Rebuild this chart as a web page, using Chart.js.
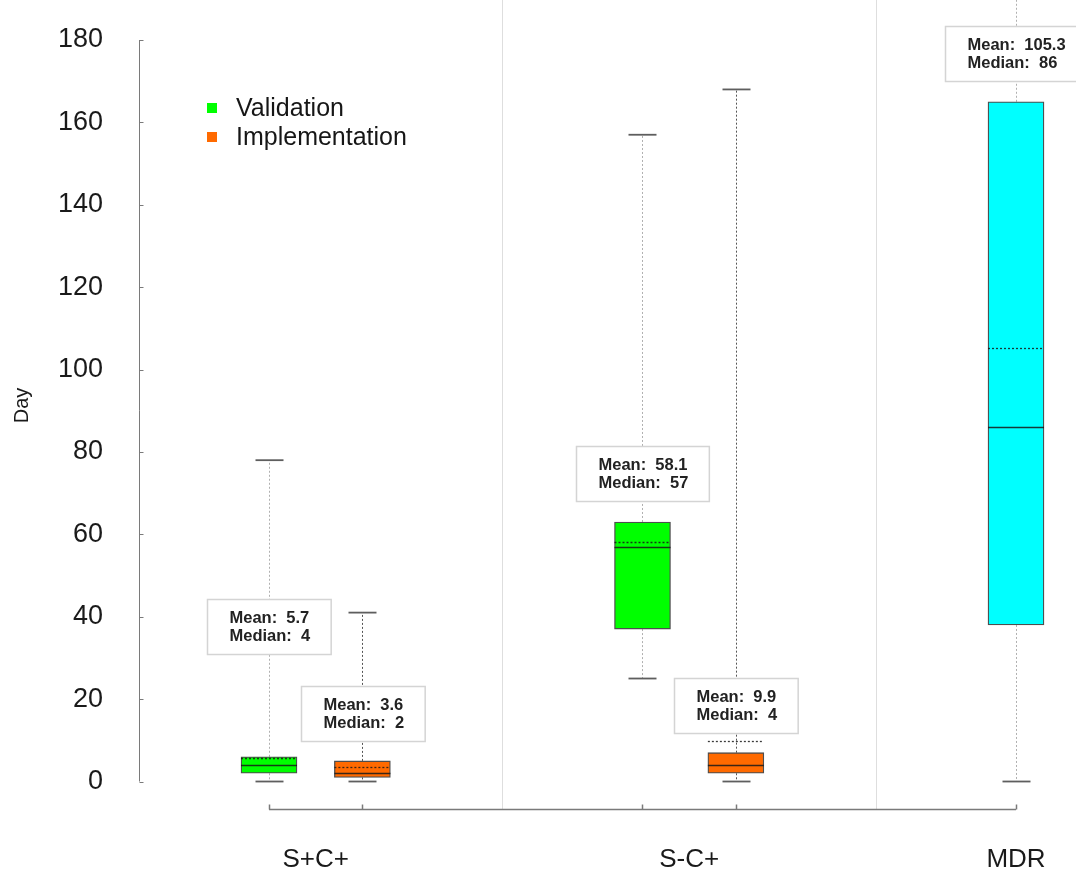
<!DOCTYPE html>
<html>
<head>
<meta charset="utf-8">
<title>Day box plots</title>
<script src="https://cdn.jsdelivr.net/npm/chart.js@4/dist/chart.umd.min.js"></script>
<style>
  html, body { margin: 0; padding: 0; background: #ffffff; }
  canvas { display: block; }
</style>
</head>
<body>
<canvas id="c" width="1076" height="871"></canvas>
<script>
// ---- data -------------------------------------------------------------
const categories = ['S+C+', 'S-C+', 'MDR'];
const yTicks = [0, 20, 40, 60, 80, 100, 120, 140, 160, 180];

// Validation (S+C+, S-C+)
const validationMin    = [0, 25];
const validationQ1     = [2, 37];
const validationMedian = [4, 57];
const validationQ3     = [6, 63];
const validationMax    = [78, 157];
const validationMean   = [5.7, 58.1];

// Implementation (S+C+, S-C+)
const implementationMin    = [0, 0];
const implementationQ1     = [1, 2];
const implementationMedian = [2, 4];
const implementationQ3     = [5, 7];
const implementationMax    = [41, 168];
const implementationMean   = [3.6, 9.9];

// MDR
const mdrMin    = [0];
const mdrQ1     = [38];
const mdrMedian = [86];
const mdrQ3     = [165];
const mdrMax    = [196];
const mdrMean   = [105.3];

// ---- layout (x slots on the linear axis, note anchors in axis units) ---
const validationSlots     = [0, 4];
const implementationSlots = [1, 5];
const mdrSlots            = [8];
const categorySlots       = [0.5, 4.5, 8];
const axisTickSlots       = [0, 1, 4, 5, 8];
const separatorSlots      = [2.5, 6.5];
const validationNoteY     = [37.7, 74.8];
const implementationNoteY = [16.6, 18.4];
const mdrNoteY            = [176.7];

const FONT = '"Liberation Sans", Arial, Helvetica, sans-serif';
Chart.defaults.font.family = FONT;

function series(label, color, slots, min, q1, med, q3, max, mean, noteY, whiskerColor, inLegend) {
  return {
    label: label,
    data: slots.map((s, i) => ({ x: s, y: [q1[i], q3[i]] })),
    backgroundColor: color,
    borderColor: '#4e4e4e',
    borderWidth: 1.3,
    borderSkipped: false,
    barThickness: 56,
    grouped: false,
    stats: { slots, min, q1, med, q3, max, mean, noteY },
    whiskerColor: whiskerColor,
    inLegend: inLegend
  };
}

const datasets = [
  series('Validation', '#00ff00', validationSlots, validationMin, validationQ1, validationMedian,
         validationQ3, validationMax, validationMean, validationNoteY, '#b0b0b0', true),
  series('Implementation', '#ff6a00', implementationSlots, implementationMin, implementationQ1,
         implementationMedian, implementationQ3, implementationMax, implementationMean,
         implementationNoteY, '#555555', true),
  series('MDR', '#00ffff', mdrSlots, mdrMin, mdrQ1, mdrMedian, mdrQ3, mdrMax, mdrMean,
         mdrNoteY, '#b0b0b0', false)
];

// Keep the plot area flush with the canvas edges: labels sit inside it.
function noEdgePadding(s) {
  s.paddingTop = 0;
  s.paddingBottom = 0;
  s.paddingLeft = 0;
  s.paddingRight = 0;
}

// Whiskers, caps, axis lines, separators, medians, means, notes and legend.
const boxExtras = {
  id: 'boxExtras',
  beforeDatasetsDraw(chart) {
    const { ctx, chartArea, scales: { x, y } } = chart;
    ctx.save();

    // light group separators
    ctx.strokeStyle = '#dedede';
    ctx.lineWidth = 1;
    separatorSlots.forEach(s => {
      const px = Math.round(x.getPixelForValue(s)) + 0.5;
      ctx.beginPath();
      ctx.moveTo(px, chartArea.top);
      ctx.lineTo(px, chartArea.bottom - 1);
      ctx.stroke();
    });

    // y axis line spanning the tick range
    const axX = chartArea.left - 0.5;
    ctx.strokeStyle = '#7a7a7a';
    ctx.lineWidth = 1;
    ctx.beginPath();
    ctx.moveTo(axX, y.getPixelForValue(yTicks[0]));
    ctx.lineTo(axX, y.getPixelForValue(yTicks[yTicks.length - 1]));
    ctx.stroke();
    yTicks.forEach(v => {
      const py = Math.round(y.getPixelForValue(v)) + 0.5;
      ctx.beginPath();
      ctx.moveTo(axX, py);
      ctx.lineTo(axX + 4, py);
      ctx.stroke();
    });

    // x axis line with upward ticks at the box positions
    const axY = chartArea.bottom - 1.5;
    ctx.lineWidth = 1.5;
    ctx.beginPath();
    ctx.moveTo(x.getPixelForValue(axisTickSlots[0]), axY);
    ctx.lineTo(x.getPixelForValue(axisTickSlots[axisTickSlots.length - 1]), axY);
    ctx.stroke();
    axisTickSlots.forEach(s => {
      const px = Math.round(x.getPixelForValue(s)) + 0.5;
      ctx.beginPath();
      ctx.moveTo(px, axY);
      ctx.lineTo(px, axY - 5);
      ctx.stroke();
    });

    // whiskers and caps
    chart.data.datasets.forEach(ds => {
      const st = ds.stats;
      st.slots.forEach((s, i) => {
        const px = Math.round(x.getPixelForValue(s)) + 0.5;
        ctx.strokeStyle = ds.whiskerColor;
        ctx.lineWidth = 1;
        ctx.setLineDash([2, 2]);
        ctx.beginPath();
        ctx.moveTo(px, y.getPixelForValue(st.q3[i]));
        ctx.lineTo(px, y.getPixelForValue(st.max[i]));
        ctx.moveTo(px, y.getPixelForValue(st.q1[i]));
        ctx.lineTo(px, y.getPixelForValue(st.min[i]));
        ctx.stroke();
        ctx.setLineDash([]);
        ctx.strokeStyle = '#5e5e5e';
        ctx.lineWidth = 1.8;
        [st.min[i], st.max[i]].forEach(v => {
          const py = y.getPixelForValue(v);
          ctx.beginPath();
          ctx.moveTo(px - 14, py);
          ctx.lineTo(px + 14, py);
          ctx.stroke();
        });
      });
    });
    ctx.restore();
  },
  afterDatasetsDraw(chart) {
    const { ctx, chartArea, scales: { x, y } } = chart;
    ctx.save();
    ctx.beginPath();
    ctx.rect(chartArea.left, chartArea.top, chartArea.right - chartArea.left, chartArea.bottom - chartArea.top);
    ctx.clip();

    // medians (solid) and means (dotted)
    chart.data.datasets.forEach((ds, di) => {
      const meta = chart.getDatasetMeta(di);
      const st = ds.stats;
      st.slots.forEach((s, i) => {
        const bar = meta.data[i];
        const half = bar.width / 2;
        const px = x.getPixelForValue(s);
        ctx.strokeStyle = 'rgba(25,25,25,0.85)';
        ctx.lineWidth = 1.5;
        let py = Math.round(y.getPixelForValue(st.med[i])) + 0.5;
        ctx.beginPath();
        ctx.moveTo(px - half, py);
        ctx.lineTo(px + half, py);
        ctx.stroke();
        ctx.lineWidth = 1.3;
        ctx.setLineDash([2, 2]);
        py = Math.round(y.getPixelForValue(st.mean[i])) + 0.5;
        ctx.beginPath();
        ctx.moveTo(px - half, py);
        ctx.lineTo(px + half, py);
        ctx.stroke();
        ctx.setLineDash([]);
      });
    });

    // mean / median notes
    ctx.font = 'bold 16.5px ' + FONT;
    ctx.textBaseline = 'middle';
    ctx.textAlign = 'left';
    chart.data.datasets.forEach(ds => {
      const st = ds.stats;
      st.slots.forEach((s, i) => {
        const l1 = 'Mean:  ' + st.mean[i];
        const l2 = 'Median:  ' + st.med[i];
        const w = Math.max(ctx.measureText(l1).width, ctx.measureText(l2).width) + 43;
        const h = 55;
        const cx = x.getPixelForValue(s);
        const cy = y.getPixelForValue(st.noteY[i]);
        const left = Math.round(cx - w / 2) + 0.5;
        const top = Math.round(cy - h / 2) + 0.5;
        ctx.fillStyle = '#ffffff';
        ctx.fillRect(left, top, w, h);
        ctx.strokeStyle = '#d4d4d4';
        ctx.lineWidth = 1.5;
        ctx.strokeRect(left, top, w, h);
        ctx.fillStyle = '#222222';
        ctx.fillText(l1, left + 22, top + 19);
        ctx.fillText(l2, left + 22, top + 37);
      });
    });
    ctx.restore();

    // legend
    ctx.save();
    ctx.font = '25px ' + FONT;
    ctx.textBaseline = 'middle';
    ctx.textAlign = 'left';
    let ly = 108;
    chart.data.datasets.filter(ds => ds.inLegend).forEach(ds => {
      ctx.fillStyle = ds.backgroundColor;
      ctx.fillRect(207, ly - 5, 10, 10);
      ctx.fillStyle = '#161616';
      ctx.fillText(ds.label, 236, ly + 1);
      ly += 29;
    });
    ctx.restore();
  }
};

new Chart(document.getElementById('c'), {
  type: 'bar',
  data: { datasets: datasets },
  plugins: [boxExtras],
  options: {
    responsive: false,
    devicePixelRatio: 1,
    animation: false,
    events: [],
    layout: { padding: 0 },
    plugins: { legend: { display: false }, tooltip: { enabled: false } },
    scales: {
      x: {
        type: 'linear',
        offset: false,
        min: -1.3815,
        max: 8.6426,
        afterBuildTicks: s => { s.ticks = categorySlots.map(v => ({ value: v })); },
        afterFit: s => { s.height = 60; noEdgePadding(s); },
        grid: { display: false, drawTicks: true, tickLength: 33 },
        border: { display: false },
        ticks: {
          autoSkip: false,
          maxRotation: 0,
          padding: 0,
          color: '#1a1a1a',
          font: { size: 26 },
          callback: (v, i) => categories[i]
        }
      },
      y: {
        type: 'linear',
        min: -7.16,
        max: 189.71,
        afterBuildTicks: s => { s.ticks = yTicks.map(v => ({ value: v })); },
        afterFit: s => { s.width = 140; noEdgePadding(s); },
        grid: { display: false, drawTicks: true, tickLength: 37 },
        border: { display: false },
        ticks: {
          padding: 0,
          color: '#1a1a1a',
          font: { size: 27 }
        },
        title: {
          display: true,
          text: 'Day',
          color: '#1a1a1a',
          font: { size: 20 },
          padding: { top: 10, bottom: 0 }
        }
      }
    }
  }
});
</script>
</body>
</html>
